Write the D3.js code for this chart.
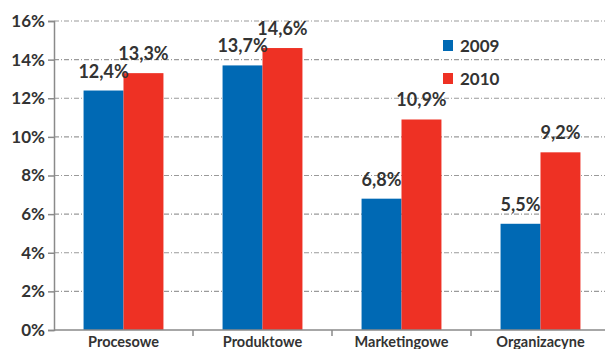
<!DOCTYPE html>
<html>
<head>
<meta charset="utf-8">
<script src="https://cdn.jsdelivr.net/npm/d3@7"></script>
<style>
  html, body { margin: 0; padding: 0; background: #fff; }
  svg { display: block; }
  text { font-family: Lato, "Open Sans", sans-serif; font-weight: bold; fill: #333; }
</style>
</head>
<body>
<svg id="chart" width="605" height="349"></svg>
<script>
// Innovation types and their shares in two years
const categories = ["Procesowe", "Produktowe", "Marketingowe", "Organizacyne"];
const years = ["2009", "2010"];
const values2009 = [12.4, 13.7, 6.8, 5.5];
const values2010 = [13.3, 14.6, 10.9, 9.2];
const yTicks = [0, 2, 4, 6, 8, 10, 12, 14, 16];
const colors = ["#0069b4", "#ee3124"];

const fmt = v => d3.format(".1f")(v).replace(".", ",") + "%";

const svg = d3.select("#chart");
const plotLeft = 54, plotTop = 21, plotBottom = 330, plotRight = 610;

const x0 = d3.scaleBand().domain(categories).range([plotLeft, plotRight]).padding(0);
const x1 = d3.scaleBand().domain(years).range([0, x0.bandwidth()])
  .paddingInner(0).paddingOuter(0.74);
const y = d3.scaleLinear().domain([0, 16]).range([plotBottom, plotTop]);
const color = d3.scaleOrdinal().domain(years).range(colors);

// dash-dot gridlines
svg.append("g")
  .selectAll("line")
  .data(yTicks.filter(d => d > 0))
  .join("line")
  .attr("x1", plotLeft).attr("x2", 605)
  .attr("y1", d => y(d)).attr("y2", d => y(d))
  .attr("stroke", "#9a9a9a")
  .attr("stroke-width", 1.2)
  .attr("stroke-dasharray", "5,2,1,2");

// bars
const rows = categories.map((c, i) => ({ cat: c, vals: [
  { year: years[0], v: values2009[i] },
  { year: years[1], v: values2010[i] }
]}));

const groups = svg.append("g").selectAll("g")
  .data(rows).join("g")
  .attr("transform", d => `translate(${x0(d.cat)},0)`);

groups.selectAll("rect")
  .data(d => d.vals).join("rect")
  .attr("x", d => x1(d.year))
  .attr("width", x1.bandwidth())
  .attr("y", d => y(d.v))
  .attr("height", d => y(0) - y(d.v))
  .attr("fill", d => color(d.year));

groups.selectAll("text.val")
  .data(d => d.vals).join("text")
  .attr("class", "val")
  .attr("x", d => x1(d.year) + x1.bandwidth() / 2)
  .attr("y", d => y(d.v) - 13)
  .attr("text-anchor", "middle")
  .style("font-size", "18px")
  .text(d => fmt(d.v));

// y axis
const yAxis = svg.append("g")
  .attr("transform", `translate(${plotLeft},0)`)
  .call(d3.axisLeft(y).tickValues(yTicks).tickSize(6).tickPadding(3)
    .tickFormat(d => d + "%"));
yAxis.select(".domain").attr("stroke", "#8a8a8a").attr("stroke-width", 1.5);
yAxis.selectAll(".tick line").attr("stroke", "#8a8a8a").attr("stroke-width", 1.5);
yAxis.selectAll(".tick text")
  .style("font-size", "17px").style("font-family", "Lato, sans-serif")
  .style("font-weight", "bold").attr("fill", "#333");

// x axis
const xAxis = svg.append("g")
  .attr("transform", `translate(0,${plotBottom})`);
xAxis.append("line")
  .attr("x1", plotLeft).attr("x2", 605)
  .attr("stroke", "#8a8a8a").attr("stroke-width", 1.5);
xAxis.selectAll("line.tk")
  .data(categories.slice(1)).join("line")
  .attr("class", "tk")
  .attr("x1", d => x0(d)).attr("x2", d => x0(d))
  .attr("y1", 0).attr("y2", 6)
  .attr("stroke", "#8a8a8a").attr("stroke-width", 1.5);
xAxis.selectAll("text")
  .data(categories).join("text")
  .attr("x", d => x0(d) + x0.bandwidth() / 2)
  .attr("y", 17)
  .attr("text-anchor", "middle")
  .style("font-size", "14.5px")
  .text(d => d);

// legend
const legend = svg.append("g").attr("transform", "translate(443,40)");
const li = legend.selectAll("g").data(years).join("g")
  .attr("transform", (d, i) => `translate(0,${i * 33})`);
li.append("rect").attr("width", 10).attr("height", 11).attr("fill", d => color(d));
li.append("text").attr("x", 17).attr("y", 12).style("font-size", "17px").text(d => d);
</script>
</body>
</html>
